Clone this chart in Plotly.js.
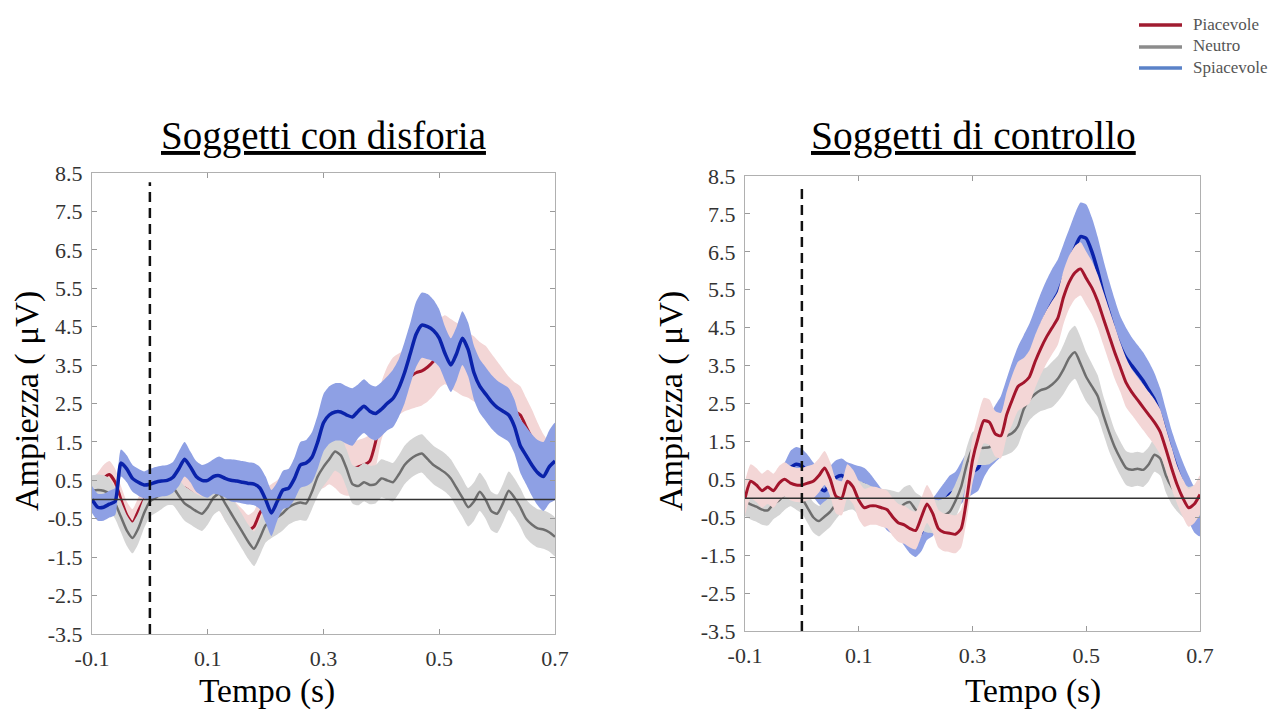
<!DOCTYPE html>
<html>
<head>
<meta charset="utf-8">
<script src="https://cdn.plot.ly/plotly-3.0.1.min.js"></script>
<style>html,body{margin:0;padding:0;background:#fff;}#chart{width:1285px;height:711px;}</style>
</head>
<body>
<div id="chart"></div>
<script>
// Time axis (s), 10 ms steps from -0.1 to 0.7
const tempo = [-0.10,-0.09,-0.08,-0.07,-0.06,-0.05,-0.04,-0.03,-0.02,-0.01,
 0.00,0.01,0.02,0.03,0.04,0.05,0.06,0.07,0.08,0.09,
 0.10,0.11,0.12,0.13,0.14,0.15,0.16,0.17,0.18,0.19,
 0.20,0.21,0.22,0.23,0.24,0.25,0.26,0.27,0.28,0.29,
 0.30,0.31,0.32,0.33,0.34,0.35,0.36,0.37,0.38,0.39,
 0.40,0.41,0.42,0.43,0.44,0.45,0.46,0.47,0.48,0.49,
 0.50,0.51,0.52,0.53,0.54,0.55,0.56,0.57,0.58,0.59,
 0.60,0.61,0.62,0.63,0.64,0.65,0.66,0.67,0.68,0.69,0.70];

const seriesNames = ["Piacevole","Neutro","Spiacevole"];
const panelTitles = ["Soggetti con disforia","Soggetti di controllo"];
const xTickVals = [-0.1,0.1,0.3,0.5,0.7];
const xTickText = ["-0.1","0.1","0.3","0.5","0.7"];
const yTickVals = [-3.5,-2.5,-1.5,-0.5,0.5,1.5,2.5,3.5,4.5,5.5,6.5,7.5,8.5];
const yTickText = ["-3.5","-2.5","-1.5","-0.5","0.5","1.5","2.5","3.5","4.5","5.5","6.5","7.5","8.5"];

// ---- Soggetti con disforia (left) ----
const disPiacevole = [0.2,0.35,0.55,0.65,0.45,0.0,-0.4,-0.6,-0.3,0.0,
 0.15,0.1,0.15,0.3,0.35,0.25,0.3,0.2,0.05,-0.1,
 0.0,0.15,0.1,-0.15,-0.35,-0.5,-0.65,-0.8,-0.7,-0.35,
 -0.15,-0.05,0.0,0.15,0.3,0.45,0.55,0.65,0.75,0.9,
 1.0,1.1,1.0,0.85,0.8,0.8,0.85,0.9,1.0,1.5,
 2.3,2.7,2.9,3.0,3.1,3.2,3.3,3.35,3.45,3.6,
 3.8,3.9,3.8,3.7,3.6,3.5,3.4,3.3,3.2,3.0,
 2.8,2.6,2.4,2.3,2.2,1.9,1.6,1.3,1.0,0.8,0.7];
const disPiacevoleSE = [0.35,0.35,0.35,0.35,0.35,0.35,0.35,0.35,0.35,0.35,
 0.35,0.35,0.35,0.35,0.35,0.35,0.35,0.35,0.35,0.35,
 0.4,0.4,0.4,0.4,0.4,0.4,0.4,0.4,0.4,0.4,
 0.45,0.45,0.5,0.5,0.5,0.55,0.55,0.6,0.6,0.65,
 0.7,0.7,0.7,0.7,0.7,0.7,0.7,0.7,0.7,0.7,
 0.75,0.75,0.8,0.8,0.8,0.85,0.9,0.9,0.9,0.9,
 0.9,0.9,0.9,0.9,0.9,0.85,0.85,0.8,0.8,0.8,
 0.8,0.8,0.8,0.75,0.75,0.75,0.75,0.7,0.7,0.7,0.7];
const disNeutro = [0.23,0.25,0.23,0.15,-0.1,-0.45,-0.8,-1.0,-0.75,-0.35,
 -0.05,0.05,0.15,0.25,0.3,0.1,-0.1,-0.2,-0.3,-0.37,
 -0.2,0.05,0.15,-0.1,-0.35,-0.6,-0.85,-1.1,-1.28,-1.0,
 -0.67,-0.55,-0.46,-0.35,-0.2,-0.12,-0.08,-0.1,0.2,0.6,
 0.85,1.05,1.25,1.15,0.8,0.4,0.35,0.45,0.38,0.4,
 0.55,0.5,0.45,0.65,0.9,1.05,1.15,1.2,1.05,0.9,
 0.8,0.7,0.55,0.3,0.05,-0.2,-0.05,0.2,0.0,-0.3,
 -0.37,-0.1,0.23,0.05,-0.2,-0.5,-0.65,-0.75,-0.78,-0.85,-0.97];
const disNeutroSE = [0.4,0.4,0.4,0.4,0.4,0.4,0.4,0.4,0.4,0.4,
 0.4,0.4,0.4,0.4,0.45,0.45,0.45,0.45,0.45,0.45,
 0.45,0.45,0.45,0.45,0.45,0.45,0.45,0.45,0.45,0.45,
 0.45,0.45,0.45,0.45,0.45,0.45,0.45,0.45,0.45,0.5,
 0.5,0.5,0.5,0.5,0.5,0.5,0.5,0.5,0.5,0.5,
 0.5,0.5,0.5,0.5,0.5,0.5,0.5,0.5,0.5,0.5,
 0.5,0.5,0.5,0.5,0.5,0.5,0.5,0.5,0.5,0.5,
 0.5,0.5,0.5,0.5,0.5,0.5,0.5,0.5,0.5,0.5,0.5];
const disSpiacevole = [0.0,-0.2,-0.2,-0.12,-0.05,0.95,0.8,0.55,0.45,0.38,
 0.4,0.45,0.48,0.5,0.58,0.8,1.05,0.85,0.6,0.5,
 0.5,0.6,0.62,0.55,0.5,0.48,0.45,0.42,0.4,0.3,
 0.0,-0.35,-0.05,0.25,0.3,0.55,0.9,0.95,1.1,1.5,
 2.0,2.2,2.28,2.28,2.2,2.15,2.3,2.43,2.3,2.24,
 2.35,2.5,2.63,2.9,3.3,3.8,4.3,4.54,4.5,4.4,
 4.2,3.8,3.5,3.8,4.2,3.9,3.3,2.95,2.75,2.55,
 2.4,2.3,2.2,1.9,1.4,1.15,0.9,0.7,0.6,0.85,1.0];
const disSpiacevoleSE = [0.35,0.35,0.35,0.35,0.35,0.35,0.35,0.35,0.35,0.35,
 0.4,0.4,0.4,0.4,0.4,0.45,0.45,0.4,0.4,0.4,
 0.45,0.45,0.5,0.5,0.55,0.55,0.55,0.55,0.55,0.55,
 0.6,0.6,0.5,0.5,0.5,0.55,0.6,0.6,0.65,0.7,
 0.75,0.75,0.75,0.75,0.75,0.75,0.7,0.7,0.7,0.7,
 0.7,0.7,0.75,0.75,0.8,0.8,0.85,0.85,0.85,0.8,
 0.75,0.7,0.7,0.7,0.7,0.7,0.7,0.7,0.7,0.7,
 0.7,0.7,0.7,0.7,0.7,0.75,0.8,0.85,0.9,0.95,1.0];

// ---- Soggetti di controllo (right) ----
const ctrPiacevole = [0.0,0.45,0.35,0.2,0.3,0.2,0.4,0.5,0.4,0.35,
 0.35,0.4,0.45,0.6,0.8,0.5,0.05,0.0,0.45,0.3,
 -0.05,-0.25,-0.2,-0.2,-0.25,-0.3,-0.5,-0.65,-0.7,-0.8,
 -0.85,-0.5,-0.15,-0.4,-0.8,-0.9,-0.92,-0.95,-0.8,0.0,
 1.0,1.6,2.05,2.0,1.7,1.65,2.2,2.6,2.95,3.05,
 3.2,3.6,3.95,4.25,4.5,4.75,5.3,5.7,5.95,6.05,
 5.8,5.55,5.2,4.75,4.3,3.85,3.45,3.05,2.8,2.6,
 2.4,2.2,2.0,1.75,1.3,0.8,0.35,0.0,-0.25,-0.15,0.1];
const ctrPiacevoleSE = [0.45,0.45,0.45,0.45,0.45,0.45,0.45,0.45,0.45,0.45,
 0.45,0.45,0.45,0.45,0.45,0.45,0.45,0.45,0.45,0.45,
 0.5,0.5,0.5,0.5,0.5,0.5,0.5,0.5,0.5,0.5,
 0.5,0.5,0.5,0.5,0.5,0.5,0.5,0.5,0.5,0.55,
 0.6,0.6,0.6,0.6,0.6,0.6,0.6,0.65,0.65,0.65,
 0.7,0.7,0.7,0.7,0.7,0.7,0.7,0.7,0.7,0.7,
 0.7,0.7,0.7,0.7,0.7,0.7,0.65,0.65,0.6,0.6,
 0.6,0.6,0.6,0.6,0.55,0.55,0.5,0.5,0.5,0.5,0.5];
const ctrNeutro = [-0.07,-0.16,-0.22,-0.3,-0.32,-0.15,-0.05,0.1,0.19,0.1,
 0.0,-0.25,-0.5,-0.6,-0.48,-0.35,-0.15,0.02,0.08,0.1,
 0.02,-0.05,-0.12,-0.17,-0.2,-0.22,-0.25,-0.29,-0.15,-0.1,
 -0.3,-0.4,-0.45,-0.47,-0.5,-0.45,-0.35,-0.07,0.3,0.9,
 1.3,1.33,1.33,1.35,1.5,1.6,1.65,1.72,1.9,2.35,
 2.6,2.75,2.85,2.9,3.0,3.15,3.4,3.7,3.85,3.55,
 3.2,2.95,2.7,2.2,1.75,1.35,1.05,0.8,0.75,0.78,
 0.75,0.9,1.15,1.05,0.6,0.3,0.1,-0.05,-0.15,-0.1,0.0];
const ctrNeutroSE = [0.4,0.4,0.4,0.4,0.4,0.4,0.4,0.4,0.4,0.4,
 0.4,0.4,0.4,0.4,0.4,0.4,0.4,0.4,0.4,0.4,
 0.45,0.45,0.45,0.45,0.45,0.45,0.45,0.45,0.45,0.45,
 0.45,0.45,0.45,0.45,0.45,0.45,0.45,0.45,0.45,0.45,
 0.45,0.45,0.45,0.45,0.5,0.5,0.5,0.5,0.5,0.55,
 0.55,0.55,0.55,0.55,0.6,0.6,0.65,0.7,0.7,0.7,
 0.65,0.6,0.55,0.5,0.5,0.45,0.45,0.45,0.45,0.45,
 0.45,0.45,0.45,0.45,0.45,0.45,0.45,0.45,0.45,0.45,0.45];
const ctrSpiacevole = [0.0,0.1,0.0,-0.2,-0.1,0.1,0.3,0.5,0.8,0.9,
 0.85,0.7,0.5,0.3,0.2,0.4,0.55,0.6,0.5,0.45,
 0.4,0.35,0.2,0.0,-0.2,-0.4,-0.5,-0.6,-0.8,-1.0,
 -1.1,-0.9,-0.6,-0.5,-0.3,-0.1,0.1,0.2,0.4,0.6,
 0.7,0.8,1.2,1.5,1.7,1.9,2.3,2.7,3.1,3.4,
 3.7,4.1,4.5,4.85,5.15,5.4,5.8,6.2,6.6,6.9,
 6.85,6.5,6.0,5.4,4.9,4.4,4.0,3.7,3.5,3.3,
 3.1,2.85,2.6,2.2,1.7,1.2,0.75,0.35,0.0,-0.3,-0.4];
const ctrSpiacevoleSE = [0.45,0.45,0.45,0.45,0.45,0.45,0.45,0.45,0.45,0.45,
 0.45,0.45,0.45,0.45,0.45,0.45,0.45,0.45,0.45,0.45,
 0.45,0.45,0.45,0.45,0.45,0.45,0.45,0.45,0.45,0.45,
 0.45,0.5,0.5,0.5,0.5,0.5,0.5,0.5,0.55,0.6,
 0.6,0.6,0.65,0.7,0.75,0.8,0.85,0.9,0.9,0.9,
 0.9,0.9,0.9,0.9,0.9,0.9,0.9,0.9,0.9,0.9,
 0.9,0.9,0.9,0.9,0.85,0.85,0.8,0.8,0.75,0.75,
 0.75,0.75,0.7,0.7,0.65,0.6,0.6,0.6,0.6,0.6,0.6];

// ---- styles ----
const lineColors = {Piacevole:"#a3152c", Neutro:"#6e6e6e", Spiacevole:"#0a22aa"};
const bandColors = {Piacevole:"#f3d6d6", Neutro:"#d5d5d5", Spiacevole:"#8ea0e4"};
const legendColors = {Piacevole:"#a01c30", Neutro:"#8c8c8c", Spiacevole:"#5a82c8"};
const lineWidths = {Piacevole:3, Neutro:2.5, Spiacevole:3.5};
const serif = "Liberation Serif, Times New Roman, serif";

function bandTrace(mean, se, name, xa, ya) {
  const up = mean.map((v,i)=>v+se[i]);
  const lo = mean.map((v,i)=>v-se[i]);
  return {
    x: tempo.concat(tempo.slice().reverse()),
    y: up.concat(lo.slice().reverse()),
    xaxis: xa, yaxis: ya, type: "scatter", mode: "lines",
    fill: "toself", fillcolor: bandColors[name],
    line: {width: 0, color: bandColors[name], shape: "spline", smoothing: 0.6},
    hoverinfo: "skip", showlegend: false
  };
}
function meanTrace(mean, name, xa, ya) {
  return {
    x: tempo, y: mean, xaxis: xa, yaxis: ya, type: "scatter", mode: "lines",
    name: name, line: {color: lineColors[name], width: lineWidths[name], shape: "spline", smoothing: 0.6},
    showlegend: false
  };
}

const traces = [];
// left: red, gray, blue (blue on top)
[["Piacevole",disPiacevole,disPiacevoleSE],["Neutro",disNeutro,disNeutroSE],["Spiacevole",disSpiacevole,disSpiacevoleSE]]
 .forEach(([n,m,s])=>{ traces.push(bandTrace(m,s,n,"x","y")); traces.push(meanTrace(m,n,"x","y")); });
// right: blue, gray, red (red on top)
[["Spiacevole",ctrSpiacevole,ctrSpiacevoleSE],["Neutro",ctrNeutro,ctrNeutroSE],["Piacevole",ctrPiacevole,ctrPiacevoleSE]]
 .forEach(([n,m,s])=>{ traces.push(bandTrace(m,s,n,"x2","y2")); traces.push(meanTrace(m,n,"x2","y2")); });

function xAxis(domain, anchor) {
  return {domain: domain, anchor: anchor, range: [-0.1,0.7], tickvals: xTickVals, ticktext: xTickText,
    ticks: "inside", ticklen: 5, tickcolor: "#9a9a9a", showline: true, linecolor: "#b0b0b0", linewidth: 1,
    mirror: "ticks", showgrid: false, zeroline: false, ticklabelstandoff: 5,
    tickfont: {family: serif, size: 22, color: "#333"}, fixedrange: true};
}
function yAxis(domain, anchor) {
  return {domain: domain, anchor: anchor, range: [-3.5,8.5], tickvals: yTickVals, ticktext: yTickText,
    ticks: "inside", ticklen: 5, tickcolor: "#9a9a9a", showline: true, linecolor: "#b0b0b0", linewidth: 1,
    mirror: "ticks", showgrid: false, zeroline: false, ticklabelstandoff: 4,
    tickfont: {family: serif, size: 22, color: "#333"}, fixedrange: true};
}

const W = 1285, H = 711;

// legend drawn as paper-space swatches + labels (top right)
const legendRows = [25, 47, 68];
const legendShapes = seriesNames.map((n,i)=>({type:"line", xref:"paper", yref:"paper",
  x0:1139/W, x1:1182/W, y0:1-legendRows[i]/H, y1:1-legendRows[i]/H,
  line:{color:legendColors[n], width:3.5}}));
const legendLabels = seriesNames.map((n,i)=>({text:n, xref:"paper", yref:"paper",
  x:1191/W, y:1-(legendRows[i]-1)/H, xanchor:"left", yanchor:"middle", showarrow:false,
  font:{family:serif, size:17, color:"#555"}}));

const layout = {
  width: W, height: H, margin: {l:0, r:0, t:0, b:0},
  paper_bgcolor: "#fff", plot_bgcolor: "#fff", showlegend: false,
  xaxis: xAxis([92/W, 555/W], "y"),
  yaxis: yAxis([1-634/H, 1-173/H], "x"),
  xaxis2: xAxis([745/W, 1200/W], "y2"),
  yaxis2: yAxis([1-631/H, 1-176/H], "x2"),
  shapes: [
    {type:"line", xref:"x domain", yref:"y", x0:0, x1:1, y0:0, y1:0, line:{color:"#333", width:1.5}, layer:"above"},
    {type:"line", xref:"x2 domain", yref:"y2", x0:0, x1:1, y0:0, y1:0, line:{color:"#333", width:1.5}, layer:"above"},
    {type:"line", xref:"x", yref:"y domain", x0:0, x1:0, y0:0, y1:0.98, line:{color:"#111", width:2.5, dash:"10px,6px"}, layer:"above"},
    {type:"line", xref:"x2", yref:"y2 domain", x0:0, x1:0, y0:0, y1:0.98, line:{color:"#111", width:2.5, dash:"10px,6px"}, layer:"above"}
  ].concat(legendShapes),
  annotations: [
    {text:"<u>"+panelTitles[0]+"</u>", xref:"paper", yref:"paper", x:323/W, y:1-136/H, xanchor:"center", yanchor:"middle", showarrow:false, font:{family:serif, size:39, color:"#000"}},
    {text:"<u>"+panelTitles[1]+"</u>", xref:"paper", yref:"paper", x:973/W, y:1-136/H, xanchor:"center", yanchor:"middle", showarrow:false, font:{family:serif, size:39.5, color:"#000"}},
    {text:"Ampiezza ( μV)", xref:"paper", yref:"paper", x:27/W, y:1-401/H, xanchor:"center", yanchor:"middle", textangle:-90, showarrow:false, font:{family:serif, size:34, color:"#000"}},
    {text:"Ampiezza ( μV)", xref:"paper", yref:"paper", x:671/W, y:1-401/H, xanchor:"center", yanchor:"middle", textangle:-90, showarrow:false, font:{family:serif, size:34, color:"#000"}},
    {text:"Tempo (s)", xref:"paper", yref:"paper", x:267/W, y:1-691/H, xanchor:"center", yanchor:"middle", showarrow:false, font:{family:serif, size:33.5, color:"#000"}},
    {text:"Tempo (s)", xref:"paper", yref:"paper", x:1033/W, y:1-691/H, xanchor:"center", yanchor:"middle", showarrow:false, font:{family:serif, size:33.5, color:"#000"}}
  ].concat(legendLabels)
};

Plotly.newPlot("chart", traces, layout, {displayModeBar: false, staticPlot: true});
</script>
</body>
</html>
